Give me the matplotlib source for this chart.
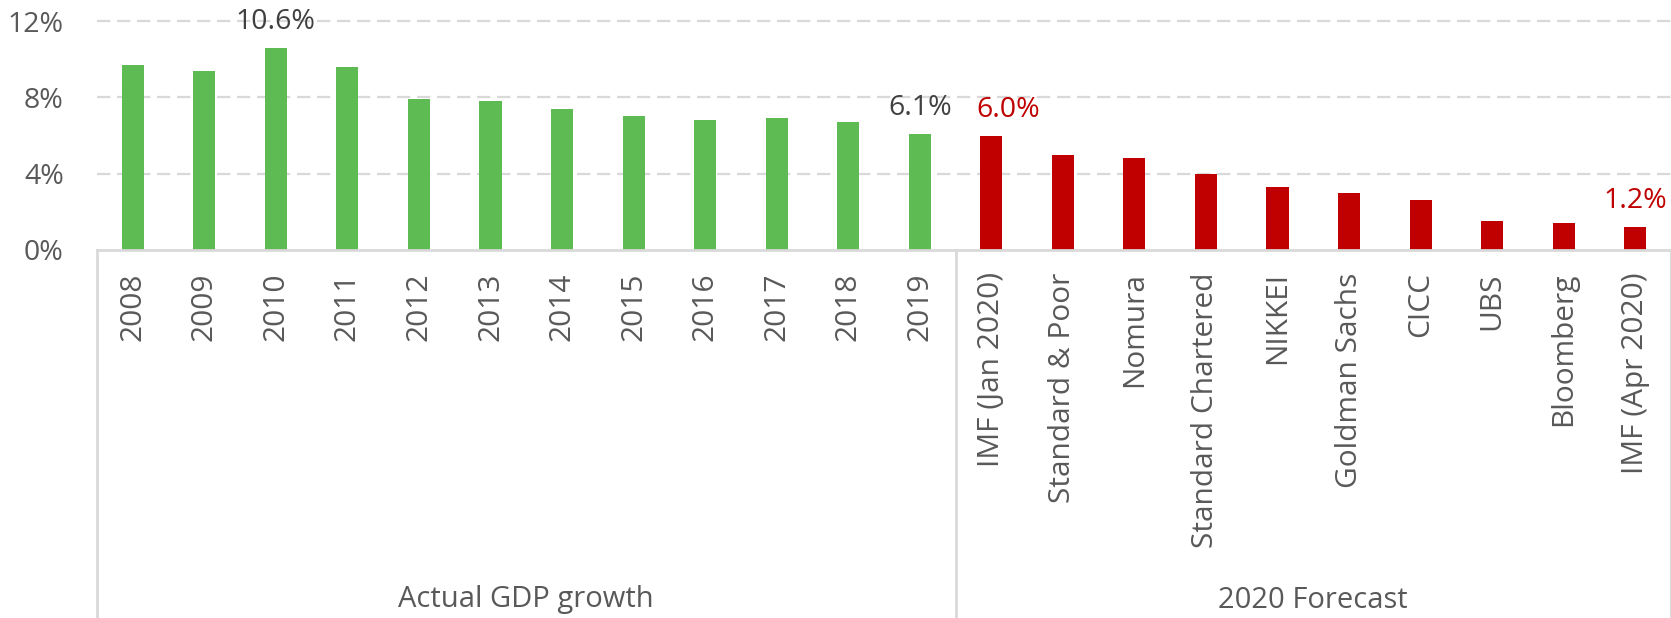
import matplotlib
matplotlib.use("Agg")
import matplotlib.pyplot as plt
from matplotlib.transforms import blended_transform_factory
from matplotlib.lines import Line2D

plt.rcParams['font.family'] = ['Open Sans', 'DejaVu Sans']

categories = ["2008", "2009", "2010", "2011", "2012", "2013", "2014", "2015",
              "2016", "2017", "2018", "2019",
              "IMF (Jan 2020)", "Standard & Poor", "Nomura", "Standard Chartered",
              "NIKKEI", "Goldman Sachs", "CICC", "UBS", "Bloomberg", "IMF (Apr 2020)"]
values = [9.7, 9.4, 10.6, 9.6, 7.9, 7.8, 7.4, 7.0, 6.8, 6.9, 6.7, 6.1,
          6.0, 5.0, 4.8, 4.0, 3.3, 3.0, 2.6, 1.5, 1.4, 1.2]
groups = ["Actual GDP growth", "2020 Forecast"]
group_sizes = [12, 10]
yticks = [0, 4, 8, 12]
ytick_labels = ["0%", "4%", "8%", "12%"]
labelled = {2: "10.6%", 11: "6.1%", 12: "6.0%", 21: "1.2%"}

GREEN = "#5EBB53"
RED = "#C00000"
TXT = "#595959"
GRID = "#D9D9D9"

W, H = 1671, 618
fig = plt.figure(figsize=(W / 100, H / 100), dpi=100)
left = 97 / W
bottom = (H - 250) / H
top = (H - 21) / H
ax = fig.add_axes([left, bottom, 1.0 - left, top - bottom])

colors = [GREEN] * group_sizes[0] + [RED] * group_sizes[1]
x = list(range(len(categories)))
ax.bar(x, values, width=0.31, color=colors, zorder=3)

ax.set_xlim(-0.5, len(categories) - 0.5)
ax.set_ylim(0, 12)
for s in ax.spines.values():
    s.set_visible(False)

for yv in yticks[1:]:
    ax.axhline(yv, color=GRID, lw=1.6, dashes=(6, 3), zorder=1, clip_on=False)
ax.axhline(0, color=GRID, lw=2, zorder=4, clip_on=False)

ax.set_yticks(yticks)
ax.set_yticklabels(ytick_labels, fontsize=20.5, color=TXT)
ax.tick_params(axis='y', length=0, pad=24)

ax.set_xticks(x)
ax.set_xticklabels(categories, rotation=90, fontsize=21.5, color=TXT,
                   va='top', ha='center')
ax.tick_params(axis='x', length=0, pad=16)

# data labels
offsets = {12: 12}
for i, txt in labelled.items():
    col = RED if i >= group_sizes[0] else "#404040"
    ax.annotate(txt, (x[i], values[i]), xytext=(offsets.get(i, 0), 13.5),
                textcoords='offset points', ha='center', va='baseline',
                fontsize=20.5, color=col, annotation_clip=False)

# multi-level category separators and group labels
tr = blended_transform_factory(ax.transData, fig.transFigure)
bounds = [-0.5]
for n in group_sizes:
    bounds.append(bounds[-1] + n)
for b in bounds:
    fig.add_artist(Line2D([b, b], [0, bottom], transform=tr, color=GRID, lw=2))
for g, a, b in zip(groups, bounds[:-1], bounds[1:]):
    fig.text((a + b) / 2, 18 / H, g, transform=tr, ha='center', va='center',
             fontsize=21, color=TXT)

fig.savefig("out.png", dpi=100)
